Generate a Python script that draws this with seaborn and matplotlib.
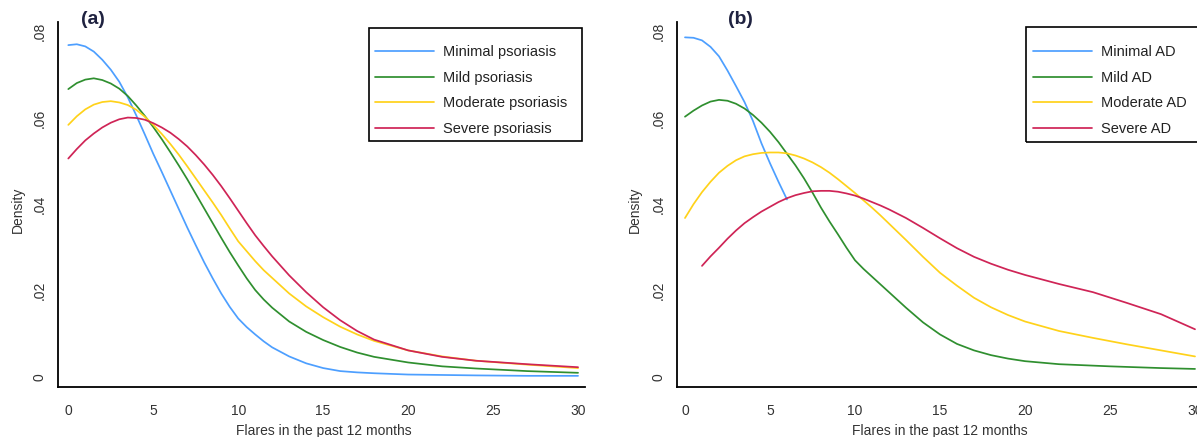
import numpy as np
import pandas as pd
import matplotlib.pyplot as plt
from matplotlib.patches import Rectangle
import seaborn as sns

sns.set_style('white')
plt.rcParams['font.family'] = ['Liberation Sans', 'DejaVu Sans']

# ---- data ----
colors = ['#4d9fff', '#2f8f2f', '#ffd21a', '#cf2456']

# (a) psoriasis
pso_labels = ['Minimal psoriasis', 'Mild psoriasis', 'Moderate psoriasis', 'Severe psoriasis']
pso_x = [0, 0.5, 1, 1.5, 2, 2.5, 3, 3.5, 4, 4.5, 5, 5.5, 6, 6.5, 7, 7.5, 8, 8.5, 9, 9.5, 10, 10.5,
         11, 11.5, 12, 13, 14, 15, 16, 17, 18, 20, 22, 24, 27, 30]
pso_minimal = [0.0769, 0.0771, 0.0766, 0.0754, 0.0735, 0.0712, 0.0684, 0.0648, 0.0606, 0.0562, 0.0517,
               0.0475, 0.0432, 0.0389, 0.0346, 0.0305, 0.0265, 0.0228, 0.0193, 0.0162, 0.0135, 0.0115,
               0.0098, 0.0082, 0.0068, 0.0047, 0.0031, 0.0020, 0.0013, 0.0010, 0.0008, 0.0005, 0.0004,
               0.0003, 0.0002, 0.0002]
pso_mild = [0.0667, 0.0681, 0.0689, 0.0692, 0.0688, 0.0680, 0.0668, 0.0651, 0.0629, 0.0605, 0.0579,
            0.0551, 0.0521, 0.0490, 0.0458, 0.0424, 0.0390, 0.0356, 0.0322, 0.0289, 0.0258, 0.0228,
            0.0201, 0.0179, 0.0160, 0.0128, 0.0104, 0.0085, 0.0069, 0.0056, 0.0046, 0.0033, 0.0024,
            0.0019, 0.0013, 0.0009]
pso_moderate = [0.0584, 0.0604, 0.0620, 0.0631, 0.0637, 0.0639, 0.0636, 0.0630, 0.0619, 0.0603, 0.0584,
                0.0563, 0.0540, 0.0515, 0.0488, 0.0460, 0.0432, 0.0404, 0.0375, 0.0344, 0.0314, 0.0291,
                0.0268, 0.0247, 0.0229, 0.0193, 0.0163, 0.0138, 0.0116, 0.0098, 0.0083, 0.0061, 0.0047,
                0.0037, 0.0028, 0.0020]
pso_severe = [0.0506, 0.0528, 0.0548, 0.0564, 0.0578, 0.0589, 0.0597, 0.0601, 0.0600, 0.0596, 0.0588,
              0.0578, 0.0566, 0.0551, 0.0534, 0.0514, 0.0492, 0.0468, 0.0442, 0.0414, 0.0385, 0.0356,
              0.0328, 0.0303, 0.0279, 0.0235, 0.0196, 0.0161, 0.0131, 0.0106, 0.0086, 0.0061, 0.0046,
              0.0037, 0.0029, 0.0022]

# (b) atopic dermatitis
ad_labels = ['Minimal AD', 'Mild AD', 'Moderate AD', 'Severe AD']
ad_minimal_x = [0, 0.5, 1, 1.5, 2, 2.5, 3, 3.5, 4, 4.5, 5, 5.5, 6]
ad_minimal = [0.0787, 0.0786, 0.0780, 0.0765, 0.0743, 0.0710, 0.0674, 0.0637, 0.0593, 0.0541, 0.0495,
              0.0452, 0.0411]
ad_mild_x = [0, 0.5, 1, 1.5, 2, 2.5, 3, 3.5, 4, 4.5, 5, 5.5, 6, 6.5, 7, 7.5, 8, 8.5, 9, 9.5, 10, 10.5,
             11, 11.5, 12, 13, 14, 15, 16, 17, 18, 19, 20, 22, 25, 28, 30]
ad_mild = [0.0603, 0.0617, 0.0629, 0.0638, 0.0642, 0.0640, 0.0633, 0.0622, 0.0607, 0.0589, 0.0568,
           0.0544, 0.0517, 0.0490, 0.0460, 0.0427, 0.0392, 0.0360, 0.0330, 0.0299, 0.0270, 0.0250,
           0.0232, 0.0214, 0.0196, 0.0160, 0.0126, 0.0098, 0.0076, 0.0061, 0.0050, 0.0042, 0.0036,
           0.0029, 0.0024, 0.0020, 0.0018]
ad_moderate_x = [0, 0.5, 1, 1.5, 2, 2.5, 3, 3.5, 4, 4.5, 5, 5.5, 6, 6.5, 7, 7.5, 8, 8.5, 9, 9.5, 10,
                 10.5, 11, 11.5, 12, 13, 14, 15, 16, 17, 18, 19, 20, 22, 24, 26, 28, 30]
ad_moderate = [0.0368, 0.0400, 0.0428, 0.0452, 0.0473, 0.0489, 0.0502, 0.0511, 0.0516, 0.0519, 0.0520,
               0.0520, 0.0518, 0.0513, 0.0506, 0.0497, 0.0486, 0.0473, 0.0458, 0.0442, 0.0426, 0.0409,
               0.0392, 0.0374, 0.0355, 0.0317, 0.0278, 0.0241, 0.0211, 0.0183, 0.0161, 0.0143, 0.0128,
               0.0106, 0.0090, 0.0075, 0.0061, 0.0047]
ad_severe_x = [1, 1.5, 2, 2.5, 3, 3.5, 4, 4.5, 5, 5.5, 6, 6.5, 7, 7.5, 8, 8.5, 9, 9.5, 10, 10.5, 11,
               11.5, 12, 13, 14, 15, 16, 17, 18, 19, 20, 22, 24, 26, 28, 30]
ad_severe = [0.0257, 0.0279, 0.0299, 0.0320, 0.0339, 0.0356, 0.0370, 0.0383, 0.0394, 0.0405, 0.0414,
             0.0421, 0.0426, 0.0430, 0.0431, 0.0431, 0.0429, 0.0425, 0.0420, 0.0413, 0.0405, 0.0397,
             0.0388, 0.0368, 0.0345, 0.0321, 0.0298, 0.0278, 0.0262, 0.0248, 0.0236, 0.0215, 0.0196,
             0.0171, 0.0145, 0.0110]

x_ticks = [0, 5, 10, 15, 20, 25, 30]
y_ticks = [0, 0.02, 0.04, 0.06, 0.08]
y_ticklabels = ['0', '.02', '.04', '.06', '.08']

W, H = 1197, 437
fig = plt.figure(figsize=(W / 100, H / 100), dpi=100, facecolor='white')


def px_axes(left, right, top, bottom):
    return fig.add_axes([left / W, 1 - bottom / H, (right - left) / W, (bottom - top) / H])


ax_a = px_axes(57.5, 585, 22, 387)
ax_b = px_axes(677, 1203, 22, 387)

series_a = [(pso_x, pso_minimal), (pso_x, pso_mild), (pso_x, pso_moderate), (pso_x, pso_severe)]
series_b = [(ad_minimal_x, ad_minimal), (ad_mild_x, ad_mild), (ad_moderate_x, ad_moderate),
            (ad_severe_x, ad_severe)]

# ax, series, labels, tag, tag x, axes left/right px, legend box px, legend handle start,
# xlabel centre, ylabel right edge, xlim
panels = [
    (ax_a, series_a, pso_labels, '(a)', 93, 57.5, 585, (369, 28, 582, 141), 375, 324, 25, (-0.636, 30.41)),
    (ax_b, series_b, ad_labels, '(b)', 740, 677, 1203, (1026, 27, 1260, 142), 1033, 940, 642, (-0.47, 30.47)),
]

for ax, series, labels, tag, tag_x, left, right, box, hx, xlab_x, ylab_x, xlim in panels:
    for (xs, ys), lab, col in zip(series, labels, colors):
        sns.lineplot(x=xs, y=ys, color=col, label=lab, linewidth=1.25, ax=ax)

    ax.set_xlim(*xlim)
    ax.set_ylim(-0.00239, 0.08226)
    ax.set_xticks(x_ticks)
    ax.set_xticklabels([str(t) for t in x_ticks])
    ax.set_yticks(y_ticks)
    ax.set_yticklabels(y_ticklabels, rotation=90, va='center')
    ax.tick_params(direction='out', length=7, width=1.2, labelsize=10,
                   labelcolor='#333333', color='black')
    ax.tick_params(axis='x', pad=5)
    ax.tick_params(axis='y', pad=1)
    sns.despine(ax=ax)
    for side in ['left', 'bottom']:
        ax.spines[side].set_linewidth(1.3)
        ax.spines[side].set_color('black')

    width = right - left
    ax.set_xlabel('Flares in the past 12 months', fontsize=10, color='#333333')
    ax.xaxis.set_label_coords((xlab_x - left) / width, -(424 - 387) / 365)
    ax.set_ylabel('Density', fontsize=10, color='#333333')
    ax.yaxis.set_label_coords((ylab_x - left) / width, (387 - 210) / 365)

    ax.text((tag_x - left) / width, (387 - 20) / 365, tag, transform=ax.transAxes,
            ha='center', va='center', fontsize=14, fontweight='bold', color='#1f2240')

    # legend box drawn as a plain frame, entries placed inside it
    x0, y0, x1, y1 = box
    fig.add_artist(Rectangle((x0 / W, 1 - y1 / H), (x1 - x0) / W, (y1 - y0) / H,
                             transform=fig.transFigure, fill=False, edgecolor='black', linewidth=1.2))
    handles, labs = ax.get_legend_handles_labels()
    leg = ax.legend(handles, labs, loc='upper left', bbox_to_anchor=(hx / W, 1 - 45 / H),
                    bbox_transform=fig.transFigure, frameon=False, fontsize=10.5,
                    handlelength=4.05, handletextpad=0.6, labelspacing=0.8,
                    borderpad=0, borderaxespad=0)
    for t in leg.get_texts():
        t.set_color('#222222')

fig.savefig('out.png', dpi=100)
